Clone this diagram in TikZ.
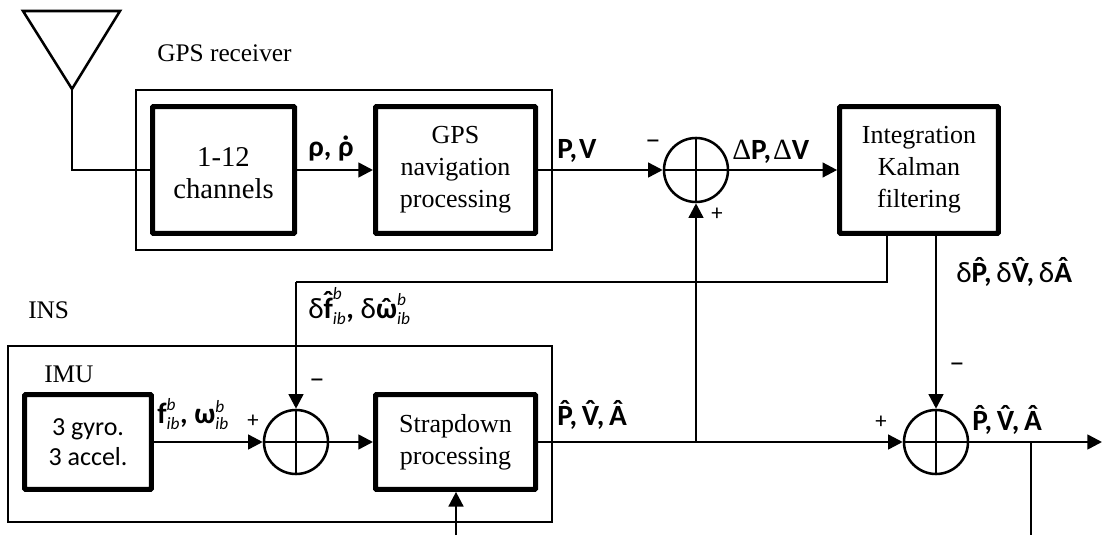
\documentclass[tikz,border=0pt]{standalone}
\usepackage{fontspec}
\setmainfont{Liberation Serif}
\newfontfamily\lblfont{Carlito}
\usetikzlibrary{arrows.meta,positioning}
\newcommand{\hatted}[1]{{\accent"02C6 #1}}
\newcommand{\dotted}[1]{{\accent"02D9 #1}}
\newcommand{\dlt}{{\mdseries δ}}
\newcommand{\Dlt}{{\rmfamily\mdseries Δ}}
\newcommand{\sepc}{,\kern3.5pt}
\newcommand{\bsub}[1]{$\mbox{\bfseries #1}^{\mbox{\fontsize{13}{13}\selectfont\mdseries\itshape b}}_{\mbox{\fontsize{13}{13}\selectfont\mdseries\itshape ib}}$}

\begin{document}
\begin{tikzpicture}[x=0.75pt,y=-0.75pt]
    \tikzstyle{block}=[rectangle, draw=black, line width=3.75pt, rounded corners=0.6pt, align=center, font=\fontsize{19.5}{24}\selectfont, inner sep=0pt]
    \tikzstyle{frame}=[rectangle, draw=black, line width=1.9pt, inner sep=0pt]
    \tikzstyle{sum}=[circle, draw=black, line width=1.9pt, minimum size=48pt, inner sep=0pt]
    \tikzstyle{connect}=[-{Triangle[length=11pt,width=11pt]}, line width=1.9pt]
    \tikzstyle{wire}=[line width=1.9pt]
    \tikzstyle{lbl}=[font=\lblfont\bfseries\fontsize{22}{24}\selectfont, inner sep=0pt, anchor=base west]
    \tikzstyle{caption}=[font=\fontsize{19}{22}\selectfont, inner sep=0pt, anchor=base west]
    \tikzstyle{plus}=[font=\lblfont\fontsize{17}{17}\selectfont, inner sep=0pt]
    \tikzstyle{minus}=[font=\lblfont\fontsize{23}{23}\selectfont, inner sep=0pt]
    \useasboundingbox (0,0) rectangle (1102,535);
    % outer frames
    \node[frame,minimum width=312pt,minimum height=120pt] (gpsframe) at (344,170) {};
    \node[frame,minimum width=408pt,minimum height=132pt] (insframe) at (280,434) {};
    % blocks
    \node[block,minimum width=106.5pt,minimum height=95pt,label={[align=center,font=\fontsize{21.5}{24}\selectfont,yshift=-2.5pt]center:1-12\\channels}] (channels) at (223.5,170) {};
    \node[block,minimum width=120pt,minimum height=95pt] (gpsnav) at (455.5,170) {GPS\\navigation\\processing};
    \node[block,minimum width=119pt,minimum height=95pt] (kalman) at (919,170) {Integration\\Kalman\\filtering};
    \node[block,minimum width=95pt,minimum height=71pt,font=\lblfont\fontsize{19.5}{23}\selectfont] (imu) at (88,442) {3 gyro.\\3 accel.};
    \node[block,minimum width=120pt,minimum height=71pt] (strapdown) at (455.5,442) {Strapdown\\processing};
    % summing junctions
    \node[sum] (sumgps) at (696,170) {};
    \node[sum] (sumimu) at (296,442) {};
    \node[sum] (sumout) at (936,442) {};
    \foreach \s in {sumgps,sumimu,sumout} {
      \draw[wire] (\s.north) -- (\s.south);
      \draw[wire] (\s.west) -- (\s.east);
    }
    % antenna
    \coordinate (anttop1) at (23,11);
    \coordinate (anttop2) at (120,11);
    \coordinate (antfoot) at (72,89);
    \coordinate (antcorner) at (72,170);
    \draw[wire,line join=miter] (anttop1) -- (anttop2) -- (antfoot) -- cycle;
    \draw[wire] (antfoot) -- (antcorner) -- (channels.west);
    % free ends
    \coordinate (fbstart) at (887,234);
    \coordinate (fbcorner) at (887,282);
    \coordinate (fbleft) at (296,282);
    \coordinate (tapins) at (696,442);
    \coordinate (outend) at (1102,442);
    \coordinate (tapout) at (1031,442);
    \coordinate (tapdown) at (1031,535);
    \coordinate (strapin) at (456,535);
    % connectors
    \path (channels.east) edge [connect] (gpsnav.west)
    (gpsnav.east) edge [connect] (sumgps.west)
    (sumgps.east) edge [connect] (kalman.west)
    (tapins) edge [connect] (sumgps.south)
    (imu.east) edge [connect] (sumimu.west)
    (sumimu.east) edge [connect] (strapdown.west)
    (strapdown.east) edge [wire] (tapins)
    (tapins) edge [connect] (sumout.west)
    (kalman.south -| sumout) edge [connect] (sumout.north)
    (sumout.east) edge [connect] (outend)
    (tapout) edge [wire] (tapdown)
    (strapin) edge [connect] (strapdown.south -| strapin);
    \draw[wire] (fbstart) -- (fbcorner) -- (fbleft);
    \draw[connect] (fbleft) -- (sumimu.north);
    % captions
    \node[caption] (gpslabel) at (157,61) {GPS receiver};
    \node[caption] (inslabel) at (28,318) {INS};
    \node[caption] (imulabel) at (44,382) {IMU};
    % signal labels
    \node[lbl] (rholabel) at (308,156) {ρ, \dotted{ρ}};
    \node[lbl] (pvlabel) at (557,158) {P,\kern1.5pt V};
    \node[lbl] (dpvlabel) at (732,159) {\Dlt P,\kern1.5pt \Dlt V};
    \node[lbl] (dhatlabel) at (956,282) {\dlt\hatted{P}\sepc\dlt\hatted{V}\sepc\dlt\hatted{A}};
    \node[lbl] (dfwlabel) at (308,318) {\dlt\bsub{\hatted{f}}, \dlt\bsub{\hatted{ω}}};
    \node[lbl] (fwlabel) at (157,423) {\bsub{f}, \bsub{ω}};
    \node[lbl] (inshat) at (557,425) {\hatted{P}\sepc\hatted{V}\sepc\hatted{A}};
    \node[lbl] (outhat) at (972,430) {\hatted{P}\sepc\hatted{V}\sepc\hatted{A}};
    % signs
    \node[minus] (m1) at (653,145) {–};
    \node[plus] (p1) at (717,214) {+};
    \node[minus] (m2) at (317,384) {–};
    \node[plus] (p2) at (253,421) {+};
    \node[minus] (m3) at (957,368) {–};
    \node[plus] (p3) at (881,422) {+};
\end{tikzpicture}
\end{document}
